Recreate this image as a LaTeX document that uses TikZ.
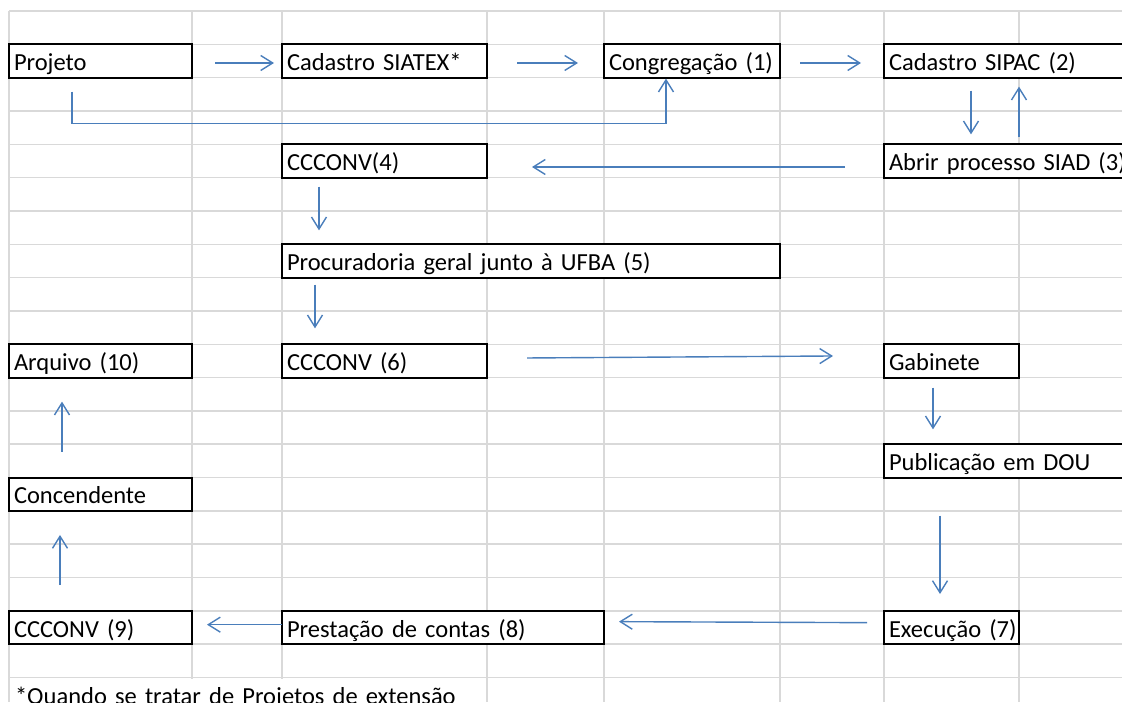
\documentclass[tikz,border=0pt]{standalone}
\usepackage{fontspec}
\setmainfont{Carlito}
\usetikzlibrary{arrows.meta}
\definecolor{gridgray}{RGB}{217,217,217}
\definecolor{arrblue}{RGB}{74,126,187}

\begin{document}
\begin{tikzpicture}[
  x=1pt, y=-1pt,
  font=\fontsize{24.5}{29}\selectfont,
  cell/.style={draw, fill=white, line width=2pt, anchor=north west,
               inner xsep=5pt, inner ysep=0pt, outer sep=0pt,
               text height=26.3pt, text depth=7pt, align=left},
  note/.style={cell, draw=none},
  arrow/.style={draw=arrblue, line width=1.4pt,
                -{Straight Barb[length=12pt,width=15pt]}},
  gridline/.style={draw=gridgray, line width=1.6pt}
]
\useasboundingbox (0,0) rectangle (1122,702);
\clip (0,0) rectangle (1122,702);

% worksheet grid
\foreach \k in {0,...,20}
  \draw[gridline] (9,{11+33.33*\k}) -- (1122,{11+33.33*\k});
\foreach \cx in {9,192,282,487,604,780,884,1019}
  \draw[gridline] (\cx,11) -- (\cx,702);

% boxes
\node[cell, text width=173pt] (proj)   at (9,44.33)    {Projeto};
\node[cell, text width=195pt] (siatex) at (282,44.33)  {Cadastro SIATEX*};
\node[cell, text width=166pt] (congr)  at (604,44.33)  {Congregação~(1)};
\node[cell, text width=266pt] (sipac)  at (884,44.33)  {Cadastro SIPAC (2)};
\node[cell, text width=195pt] (cc4)    at (282,144.33) {CCCONV(4)};
\node[cell, text width=266pt] (siad)   at (884,144.33) {Abrir processo SIAD (3)};
\node[cell, text width=488pt] (procur) at (282,244.33) {Procuradoria geral junto à UFBA (5)};
\node[cell, text width=173pt] (arq)    at (9,344.33)   {Arquivo (10)};
\node[cell, text width=195pt] (cc6)    at (282,344.33) {CCCONV (6)};
\node[cell, text width=125pt] (gab)    at (884,344.33) {Gabinete};
\node[cell, text width=266pt] (dou)    at (884,444.33) {Publicação em DOU};
\node[cell, text width=173pt] (conc)   at (9,477.67)   {Concendente};
\node[cell, text width=173pt] (cc9)    at (9,611)      {CCCONV (9)};
\node[cell, text width=312pt] (prest)  at (282,611)    {Prestação de contas (8)};
\node[cell, text width=125pt] (exec)   at (884,611)    {Execução~(7)};
\node[note, text width=466pt] (nota)   at (10,678.5)   {*Quando se tratar de Projetos de extensão};

% flow
\draw[arrow] ([shift={(23,2)}]proj.east) -- ([shift={(-8,2)}]siatex.west);
\draw[arrow] ([shift={(30,2)}]siatex.east) -- ([shift={(-26,2)}]congr.west);
\draw[arrow] ([shift={(20,2)}]congr.east) -- ([shift={(-23,2)}]sipac.west);
\draw[arrow] ([shift={(63,14)}]proj.south west) -- ++(0,32)
  -| ([shift={(62,1)}]congr.south west);
\draw[arrow] ([shift={(87,13)}]sipac.south west) -- ([shift={(87,-10)}]siad.north west);
\draw[arrow] ([shift={(135,-7)}]siad.north west) -- ([shift={(135,9)}]sipac.south west);
\draw[arrow] ([shift={(-39,6)}]siad.west) -- ([shift={(45,6)}]cc4.east);
\draw[arrow] ([shift={(37,9)}]cc4.south west) -- ([shift={(37,-14)}]procur.north west);
\draw[arrow] ([shift={(33,7)}]procur.south west) -- ([shift={(33,-16)}]cc6.north west);
\draw[arrow] ([shift={(40,-3)}]cc6.east) -- ([shift={(-51,-5)}]gab.west);
\draw[arrow] ([shift={(49,10)}]gab.south west) -- ([shift={(49,-15)}]dou.north west);
\draw[arrow] ([shift={(56,38)}]dou.south west) -- ([shift={(56,-17)}]exec.north west);
\draw[arrow] ([shift={(-17,-5)}]exec.west) -- ([shift={(15,-6)}]prest.east);
\draw[arrow] ([shift={(0,-3)}]prest.west) -- ([shift={(15,-3)}]cc9.east);
\draw[arrow] ([shift={(51,-26)}]cc9.north west) -- ([shift={(51,24)}]conc.south west);
\draw[arrow] ([shift={(53,-26)}]conc.north west) -- ([shift={(53,24)}]arq.south west);
\end{tikzpicture}
\end{document}
